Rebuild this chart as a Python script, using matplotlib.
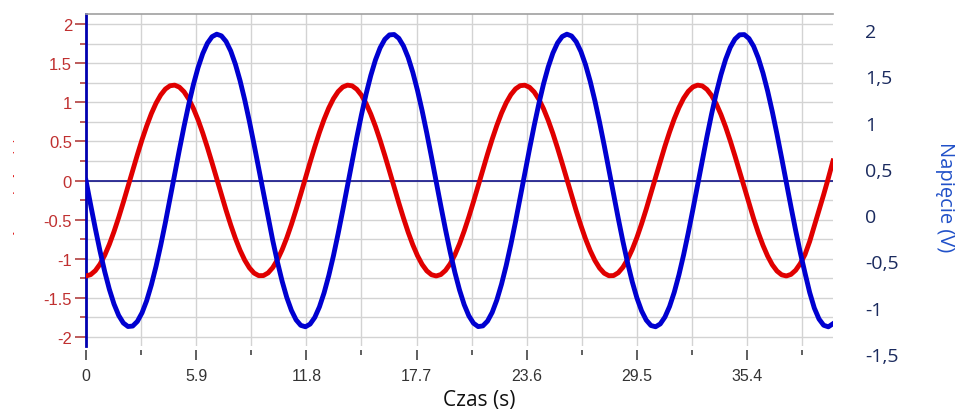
import matplotlib
matplotlib.use('Agg')
import matplotlib.pyplot as plt
from matplotlib.ticker import MultipleLocator
from matplotlib.transforms import Bbox

plt.rcParams['font.family'] = ['Liberation Sans', 'DejaVu Sans']
plt.rcParams['axes.unicode_minus'] = False

# sample times (s)
time_s = [0.0, 0.25, 0.5, 0.75, 1.0, 1.25, 1.5, 1.75, 2.0, 2.25,
          2.5, 2.75, 3.0, 3.25, 3.5, 3.75, 4.0, 4.25, 4.5, 4.75,
          5.0, 5.25, 5.5, 5.75, 6.0, 6.25, 6.5, 6.75, 7.0, 7.25,
          7.5, 7.75, 8.0, 8.25, 8.5, 8.75, 9.0, 9.25, 9.5, 9.75,
          10.0, 10.25, 10.5, 10.75, 11.0, 11.25, 11.5, 11.75, 12.0, 12.25,
          12.5, 12.75, 13.0, 13.25, 13.5, 13.75, 14.0, 14.25, 14.5, 14.75,
          15.0, 15.25, 15.5, 15.75, 16.0, 16.25, 16.5, 16.75, 17.0, 17.25,
          17.5, 17.75, 18.0, 18.25, 18.5, 18.75, 19.0, 19.25, 19.5, 19.75,
          20.0, 20.25, 20.5, 20.75, 21.0, 21.25, 21.5, 21.75, 22.0, 22.25,
          22.5, 22.75, 23.0, 23.25, 23.5, 23.75, 24.0, 24.25, 24.5, 24.75,
          25.0, 25.25, 25.5, 25.75, 26.0, 26.25, 26.5, 26.75, 27.0, 27.25,
          27.5, 27.75, 28.0, 28.25, 28.5, 28.75, 29.0, 29.25, 29.5, 29.75,
          30.0, 30.25, 30.5, 30.75, 31.0, 31.25, 31.5, 31.75, 32.0, 32.25,
          32.5, 32.75, 33.0, 33.25, 33.5, 33.75, 34.0, 34.25, 34.5, 34.75,
          35.0, 35.25, 35.5, 35.75, 36.0, 36.25, 36.5, 36.75, 37.0, 37.25,
          37.5, 37.75, 38.0, 38.25, 38.5, 38.75, 39.0, 39.25, 39.5, 39.75,
          40.0]

# red trace (left axis)
current = [-1.22, -1.203, -1.152, -1.069, -0.956, -0.816, -0.653, -0.472, -0.278, -0.076,
           0.129, 0.329, 0.521, 0.697, 0.855, 0.988, 1.093, 1.169, 1.211, 1.219,
           1.193, 1.134, 1.042, 0.922, 0.776, 0.608, 0.423, 0.226, 0.023, -0.181,
           -0.380, -0.568, -0.740, -0.892, -1.018, -1.116, -1.183, -1.216, -1.215, -1.181,
           -1.113, -1.014, -0.886, -0.734, -0.561, -0.372, -0.173, 0.031, 0.234, 0.430,
           0.615, 0.782, 0.927, 1.046, 1.136, 1.195, 1.219, 1.210, 1.166, 1.090,
           0.983, 0.849, 0.691, 0.513, 0.321, 0.121, -0.084, -0.286, -0.479, -0.660,
           -0.822, -0.961, -1.073, -1.155, -1.204, -1.220, -1.202, -1.149, -1.065, -0.951,
           -0.810, -0.646, -0.465, -0.270, -0.068, 0.137, 0.337, 0.528, 0.704, 0.861,
           0.993, 1.097, 1.171, 1.212, 1.218, 1.191, 1.131, 1.038, 0.917, 0.769,
           0.601, 0.415, 0.218, 0.015, -0.189, -0.388, -0.575, -0.747, -0.897, -1.022,
           -1.119, -1.185, -1.217, -1.215, -1.179, -1.109, -1.009, -0.881, -0.728, -0.554,
           -0.365, -0.165, 0.039, 0.241, 0.438, 0.621, 0.788, 0.932, 1.051, 1.139,
           1.196, 1.219, 1.209, 1.164, 1.086, 0.979, 0.843, 0.684, 0.506, 0.314,
           0.113, -0.092, -0.293, -0.487, -0.667, -0.828, -0.966, -1.077, -1.157, -1.205,
           -1.220, -1.200, -1.147, -1.061, -0.946, -0.78, -0.58, -0.38, -0.18, 0.03,
           0.25]

# blue trace (voltage)
voltage = [0.00, -0.312, -0.615, -0.901, -1.162, -1.390, -1.579, -1.724, -1.821, -1.866,
           -1.860, -1.801, -1.691, -1.535, -1.334, -1.097, -0.829, -0.538, -0.231, 0.081,
           0.392, 0.692, 0.972, 1.225, 1.443, 1.621, 1.754, 1.838, 1.870, 1.849,
           1.777, 1.655, 1.486, 1.276, 1.030, 0.755, 0.459, 0.151, -0.163, -0.471,
           -0.767, -1.040, -1.285, -1.494, -1.660, -1.781, -1.851, -1.869, -1.835, -1.750,
           -1.615, -1.435, -1.215, -0.962, -0.680, -0.380, -0.069, 0.244, 0.550, 0.840,
           1.107, 1.342, 1.541, 1.696, 1.804, 1.861, 1.866, 1.818, 1.719, 1.573,
           1.382, 1.152, 0.891, 0.604, 0.300, -0.012, -0.324, -0.627, -0.912, -1.172,
           -1.398, -1.586, -1.729, -1.824, -1.867, -1.858, -1.797, -1.686, -1.527, -1.325,
           -1.087, -0.818, -0.526, -0.219, 0.094, 0.404, 0.703, 0.982, 1.234, 1.451,
           1.628, 1.758, 1.840, 1.870, 1.847, 1.773, 1.649, 1.479, 1.267, 1.020,
           0.744, 0.447, 0.138, -0.175, -0.483, -0.778, -1.051, -1.294, -1.501, -1.666,
           -1.784, -1.853, -1.869, -1.833, -1.745, -1.609, -1.428, -1.206, -0.951, -0.669,
           -0.368, -0.057, 0.256, 0.561, 0.851, 1.117, 1.351, 1.548, 1.702, 1.807,
           1.862, 1.865, 1.815, 1.715, 1.566, 1.374, 1.143, 0.880, 0.592, 0.288,
           -0.024, -0.336, -0.638, -0.923, -1.181, -1.43, -1.63, -1.77, -1.85, -1.87,
           -1.83]

x_major = [0, 5.9, 11.8, 17.7, 23.6, 29.5, 35.4]
x_labels = ['0', '5.9', '11.8', '17.7', '23.6', '29.5', '35.4']
x_minor = [2.95, 8.85, 14.75, 20.65, 26.55, 32.45, 38.35]
left_ticks = [-2, -1.5, -1, -0.5, 0, 0.5, 1, 1.5, 2]
left_labels = ['-2', '-1.5', '-1', '-0.5', '0', '0.5', '1', '1.5', '2']
right_ticks = [-1.5, -1, -0.5, 0, 0.5, 1, 1.5, 2]
right_labels = ['-1,5', '-1', '-0,5', '0', '0,5', '1', '1,5', '2']

W, H = 957, 410
fig = plt.figure(figsize=(W / 100, H / 100), dpi=100)
ax = fig.add_axes([86 / W, 1 - 347 / H, 747 / W, 332 / H])

ax.plot(time_s, current, color='#e00000', lw=3.5, zorder=3)
ax.plot(time_s, voltage, color='#0000d0', lw=3.5, zorder=4)
ax.axhline(0, color='#000080', lw=1.1, zorder=2)

ax.set_xlim(0, 40)
ax.set_ylim(-2.115, 2.128)
ax.set_yticks(left_ticks)
ax.set_yticklabels(left_labels)
ax.yaxis.set_minor_locator(MultipleLocator(0.25))
ax.set_xticks(x_major)
ax.set_xticklabels(x_labels)
ax.set_xticks(x_minor, minor=True)
ax.set_axisbelow(True)
ax.grid(which='both', color='#d3d3d3', lw=1.0)

ax.spines['right'].set_visible(False)
ax.spines['bottom'].set_position(('outward', 3))
ax.spines['bottom'].set_visible(False)
ax.spines['top'].set_color('#a0a0a0')
ax.spines['top'].set_linewidth(1.2)
ax.spines['left'].set_color('#0000b0')
ax.spines['left'].set_linewidth(2)

ax.tick_params(axis='y', which='major', length=8, width=1.2, color='#b04040',
               labelcolor='#c03030', labelsize=12, pad=2)
ax.tick_params(axis='y', which='minor', length=4.5, width=1.2, color='#b04040')
ax.tick_params(axis='x', which='major', length=7, width=1.2, color='#444444',
               labelcolor='#333333', labelsize=11.5, pad=6)
ax.tick_params(axis='x', which='minor', length=3.5, width=1.2, color='#444444')

ax.set_xlabel('Czas (s)', fontfamily='Open Sans', fontsize=15, color='#111111')
ax.xaxis.set_label_coords(0.526, -0.13)

# right-hand voltage scale
ax2 = fig.add_axes([86 / W, 1 - 371 / H, 747 / W, 356 / H], frameon=False)
ax2.set_xlim(0, 40)
ax2.set_xticks([])
ax2.set_ylim(-1.673, 2.173)
ax2.yaxis.tick_right()
ax2.set_yticks(right_ticks)
ax2.set_yticklabels(right_labels)
ax2.tick_params(axis='y', length=0, pad=23, labelsize=14, labelcolor='#1a2a5e')
for lab in ax2.get_yticklabels():
    lab.set_fontfamily('Open Sans')
ax2.yaxis.set_label_position('right')
ax2.set_ylabel('Napięcie (V)', rotation=-90, fontfamily='Open Sans',
               fontsize=14.5, color='#2050c8', va='center', ha='center')
ax2.yaxis.set_label_coords((945 - 86) / 747, (371 - 197) / 356)

# left label, mostly cut off in the original
lbl = fig.text(12.5 / W, 1 - 198 / H, 'Natężenie prądu (A)', rotation=90,
               rotation_mode='anchor', ha='center', va='baseline',
               color='#dd0000', fontsize=9.7)
lbl.set_clip_box(Bbox([[13, 0], [20, H]]))
lbl.set_clip_on(True)

fig.savefig('out.png', dpi=100)
